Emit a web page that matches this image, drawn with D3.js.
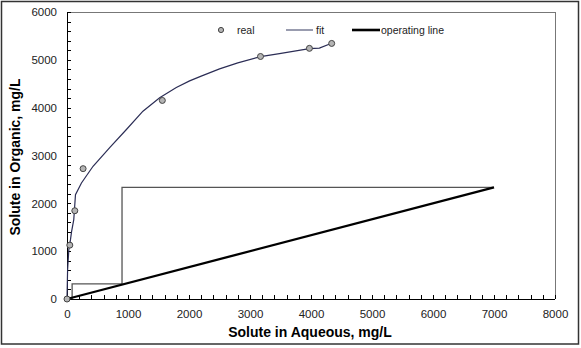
<!DOCTYPE html>
<meta charset="utf-8" />
<style>
  body { margin: 0; background: #fff; }
  svg text { font-family: Arial, "Liberation Sans", Helvetica, sans-serif; }
  .axis path, .axis line { stroke: #000; shape-rendering: crispEdges; }
  .axis text { font-size: 11.5px; fill: #222; }
</style>
<svg width="581" height="348"></svg>
<script src="https://cdn.jsdelivr.net/npm/d3@7"></script>
<script>
  // measured points
  var realX = [0, 46, 128, 264, 1563, 3172, 3974, 4339];
  var realY = [0, 1126, 1845, 2725, 4151, 5070, 5240, 5343];

  // fitted isotherm
  var fitX = [0, 10, 30, 57, 75, 111, 139, 237, 427, 700, 974, 1245, 1519, 1792, 2010, 2200, 2501, 2800, 3172, 3483, 3974, 4137, 4339];
  var fitY = [0, 620, 1030, 1240, 1410, 1660, 2180, 2425, 2775, 3166, 3543, 3927, 4208, 4420, 4560, 4660, 4810, 4935, 5067, 5130, 5235, 5245, 5346];

  // operating line
  var opX = [0, 7000];
  var opY = [0, 2333];

  // stage steps
  var stepX = [7000, 902, 902, 84, 84];
  var stepY = [2333, 2333, 315, 315, 0];

  var xTicks = [0, 1000, 2000, 3000, 4000, 5000, 6000, 7000, 8000];
  var yTicks = [0, 1000, 2000, 3000, 4000, 5000, 6000];

  var svg = d3.select("svg");
  var pLeft = 67, pRight = 555, pTop = 12, pBottom = 299;

  var x = d3.scaleLinear().domain([0, 8000]).range([pLeft, pRight]);
  var y = d3.scaleLinear().domain([0, 6000]).range([pBottom, pTop]);

  // outer frame
  svg.append("rect")
    .attr("x", 1.5).attr("y", 1.5)
    .attr("width", 577).attr("height", 342.5)
    .attr("fill", "none").attr("stroke", "#333").attr("stroke-width", 1.5);

  // plot box top/right
  svg.append("path")
    .attr("d", "M" + pLeft + "," + (pTop + 0.5) + "H" + (pRight + 0.5) + "V" + pBottom)
    .attr("fill", "none").attr("stroke", "#777").attr("stroke-width", 1)
    .attr("shape-rendering", "crispEdges");

  // axes: major ticks with labels, minor ticks inward
  var xAxis = d3.axisBottom(x).tickValues(xTicks).tickSize(0).tickPadding(11).tickFormat(d3.format("d"));
  var gx = svg.append("g").attr("class", "axis").attr("transform", "translate(0," + pBottom + ")").call(xAxis);
  gx.select(".domain").attr("d", "M" + pLeft + ",0.5H" + pRight);
  gx.selectAll(".minor").data(d3.range(0, 8001, 200)).enter().append("line")
    .attr("x1", function(d) { return Math.round(x(d)) + 0.5; })
    .attr("x2", function(d) { return Math.round(x(d)) + 0.5; })
    .attr("y1", 0).attr("y2", -4).attr("stroke", "#000");

  var yAxis = d3.axisLeft(y).tickValues(yTicks).tickSize(0).tickPadding(10).tickFormat(d3.format("d"));
  var gy = svg.append("g").attr("class", "axis").attr("transform", "translate(" + pLeft + ",0)").call(yAxis);
  gy.select(".domain").attr("d", "M0.5," + pTop + "V" + pBottom);
  gy.selectAll(".minor").data(d3.range(0, 6001, 200)).enter().append("line")
    .attr("y1", function(d) { return Math.round(y(d)) + 0.5; })
    .attr("y2", function(d) { return Math.round(y(d)) + 0.5; })
    .attr("x1", 0).attr("x2", 4).attr("stroke", "#000");

  // axis titles
  svg.append("text")
    .attr("x", 310).attr("y", 337)
    .attr("text-anchor", "middle")
    .attr("font-size", "14px").attr("font-weight", "bold")
    .text("Solute in Aqueous, mg/L");
  svg.append("text")
    .attr("transform", "translate(20,157) rotate(-90)")
    .attr("text-anchor", "middle")
    .attr("font-size", "14px").attr("font-weight", "bold")
    .text("Solute in Organic, mg/L");

  var line = d3.line()
    .x(function(d) { return x(d[0]); })
    .y(function(d) { return y(d[1]); });

  // steps
  svg.append("path")
    .datum(d3.zip(stepX, stepY))
    .attr("d", line)
    .attr("fill", "none").attr("stroke", "#555").attr("stroke-width", 1.3);

  // operating line
  svg.append("path")
    .datum(d3.zip(opX, opY))
    .attr("d", line)
    .attr("fill", "none").attr("stroke", "#000").attr("stroke-width", 2.3);

  // fit
  svg.append("path")
    .datum(d3.zip(fitX, fitY))
    .attr("d", line)
    .attr("fill", "none").attr("stroke", "#2b2d55").attr("stroke-width", 1.2);

  // real
  svg.selectAll(".pt").data(d3.zip(realX, realY)).enter().append("circle")
    .attr("cx", function(d) { return x(d[0]); })
    .attr("cy", function(d) { return y(d[1]); })
    .attr("r", 3)
    .attr("fill", "#b4b4b4").attr("stroke", "#444").attr("stroke-width", 1);

  // legend
  var lg = svg.append("g").attr("font-size", "10.5px").attr("fill", "#222");
  lg.append("circle").attr("cx", 221).attr("cy", 30).attr("r", 2.6)
    .attr("fill", "#b4b4b4").attr("stroke", "#444").attr("stroke-width", 1);
  lg.append("text").attr("x", 237).attr("y", 34).text("real");
  lg.append("line").attr("x1", 286).attr("x2", 313).attr("y1", 30).attr("y2", 30)
    .attr("stroke", "#555a7a").attr("stroke-width", 1.2);
  lg.append("text").attr("x", 316).attr("y", 34).text("fit");
  lg.append("line").attr("x1", 352).attr("x2", 380).attr("y1", 30).attr("y2", 30)
    .attr("stroke", "#000").attr("stroke-width", 2.6);
  lg.append("text").attr("x", 381).attr("y", 34).text("operating line");
</script>
